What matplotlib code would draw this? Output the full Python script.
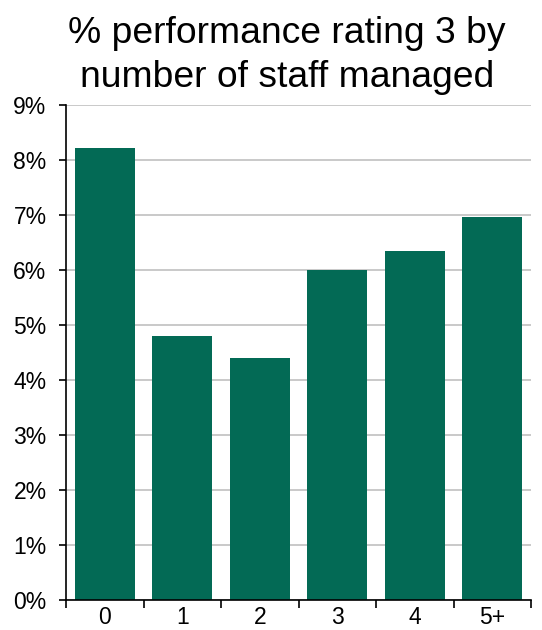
import matplotlib.pyplot as plt
import numpy as np
from matplotlib.ticker import FixedLocator, NullFormatter

plt.rcParams["font.family"] = ["Liberation Sans", "DejaVu Sans"]

STAFF_GROUPS = ["0", "1", "2", "3", "4", "5+"]
RATING3_PCT = [8.22, 4.80, 4.40, 6.00, 6.35, 6.96]
Y_TICKS = list(range(0, 10))
TITLE_LINES = ["% performance rating 3 by", "number of staff managed"]

BAR_COLOR = "#036a55"
GRID_COLOR = "#c0c0c0"

fig = plt.figure(figsize=(5.42, 6.3), dpi=100)
ax = fig.add_axes([0.1218, 0.0476, 0.8579, 0.7857])

x = np.arange(len(STAFF_GROUPS))
ax.bar(x, RATING3_PCT, width=0.77, color=BAR_COLOR, zorder=2)

ax.set_xlim(-0.5, len(STAFF_GROUPS) - 0.5)
ax.set_ylim(0, 9)
ax.set_yticks(Y_TICKS)
ax.set_yticklabels([f"{v}%" for v in Y_TICKS], fontsize=16.5)
ax.yaxis.grid(True, color=GRID_COLOR, lw=1.2, zorder=0)

# category labels at centres, tick marks at the boundaries
ax.set_xticks(x)
ax.set_xticklabels(STAFF_GROUPS, fontsize=16.5)
ax.tick_params(axis="x", which="major", length=0, pad=4)
ax.xaxis.set_minor_locator(FixedLocator(np.arange(-0.5, len(STAFF_GROUPS), 1.0)))
ax.xaxis.set_minor_formatter(NullFormatter())
ax.tick_params(axis="x", which="minor", length=6, width=1.2, direction="out")
ax.tick_params(axis="y", length=5, width=1.2, direction="out", pad=9)

for side in ("top", "right"):
    ax.spines[side].set_visible(False)
for side in ("left", "bottom"):
    ax.spines[side].set_linewidth(1.2)

for line, y in zip(TITLE_LINES, (0.9317, 0.8619)):
    fig.text(0.5295, y, line, ha="center", va="baseline", fontsize=26.8)

fig.savefig("out.png", dpi=100)
